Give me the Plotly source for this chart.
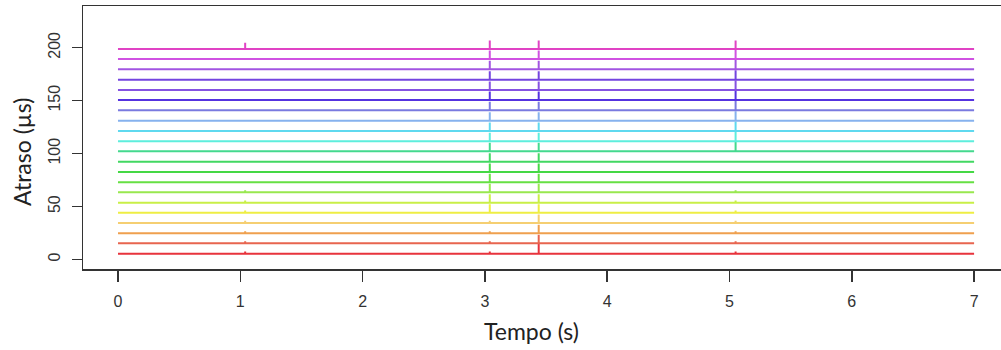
import plotly.graph_objects as go

# ---- data ----
time_start = 0.0
time_end = 7.0
event_times = [1.04, 3.04, 3.44, 5.05]

# baseline delay of each trace (bottom -> top), in µs
baselines = [5.5, 15.3, 24.7, 34.5, 44.2, 53.6, 63.4, 72.9, 82.6, 92.4, 102.2,
             111.6, 121.4, 131.1, 140.9, 150.6, 160.0, 169.8, 179.6, 189.3, 198.8]

# spike heights (µs) of each trace at each event time
spike_e1 = [2, 2, 2, 2, 2, 2, 2, 0, 0, 0, 0, 0, 0, 0, 0, 0, 0, 0, 0, 0, 6]
spike_e2 = [2, 2, 2, 2, 8, 8, 8, 8, 8, 8, 8, 8, 8, 8, 8, 8, 8, 8, 8, 8, 8]
spike_e3 = [9, 8, 8, 8, 8, 8, 8, 8, 8, 8, 8, 8, 8, 8, 8, 8, 8, 8, 8, 8, 8]
spike_e4 = [2, 2, 2, 2, 2, 2, 2, 0, 0, 0, 9, 9, 9, 9, 9, 9, 9, 9, 9, 9, 8]

colors = ["#e8333c", "#e8654f", "#efa04e", "#f5cf72", "#eeee44", "#c9ef47",
          "#98e84f", "#66e043", "#45d845", "#42d862", "#44d98e", "#5eeedd",
          "#5fd9ef", "#86b2ee", "#7a7ae0", "#5532e0", "#8552e2", "#7444e0",
          "#a255e2", "#d052e2", "#e043c4"]

x_ticks = [0, 1, 2, 3, 4, 5, 6, 7]
y_ticks = [0, 50, 100, 150, 200]

spikes = [spike_e1, spike_e2, spike_e3, spike_e4]

fig = go.Figure()
for i, base in enumerate(baselines):
    xs = [time_start]
    ys = [base]
    for k, t in enumerate(event_times):
        amp = spikes[k][i]
        xs += [t, t, t]
        ys += [base, base + amp, base]
    xs.append(time_end)
    ys.append(base)
    fig.add_trace(go.Scatter(x=xs, y=ys, mode="lines",
                             line=dict(color=colors[i], width=2),
                             showlegend=False, hoverinfo="skip"))

W, H = 1001, 350
L, R, T, B = 83, 0, 6, 81
pw = W - L - R
ph = H - T - B

fig.update_layout(
    width=W, height=H,
    margin=dict(l=L, r=R, t=T, b=B),
    paper_bgcolor="white", plot_bgcolor="white",
    xaxis=dict(range=[-0.286, 7.22], tickvals=x_ticks, ticks="outside",
               ticklen=11, tickwidth=1.5, tickcolor="#333",
               showline=True, linecolor="#333", linewidth=1.5, mirror=True,
               showgrid=False, zeroline=False,
               tickfont=dict(family="Liberation Sans, Arial", size=16, color="#333"),
               ticklabelstandoff=6),
    yaxis=dict(range=[-9.0, 239.4], tickvals=y_ticks, ticks="outside",
               ticklen=10, tickwidth=1.5, tickcolor="#333",
               showline=True, linecolor="#333", linewidth=1.5, mirror=False,
               showgrid=False, zeroline=False, tickangle=-90,
               tickfont=dict(family="Liberation Sans, Arial", size=16, color="#333"),
               ticklabelstandoff=5),
    annotations=[
        dict(text="Tempo (s)", xref="paper", yref="paper",
             x=(531 - L) / pw, y=(H - B - 331) / ph, xanchor="center", yanchor="middle",
             showarrow=False, font=dict(family="Lato", size=23, color="#222")),
        dict(text="Atraso (µs)", xref="paper", yref="paper",
             x=(22 - L) / pw, y=(H - B - 152) / ph, xanchor="center", yanchor="middle",
             textangle=-90, showarrow=False,
             font=dict(family="Lato", size=23, color="#222")),
    ],
)

fig.write_html("out.html",
               config={"displayModeBar": False, "staticPlot": True},
               post_script="document.body.style.margin='0px';document.body.style.overflow='hidden';")
